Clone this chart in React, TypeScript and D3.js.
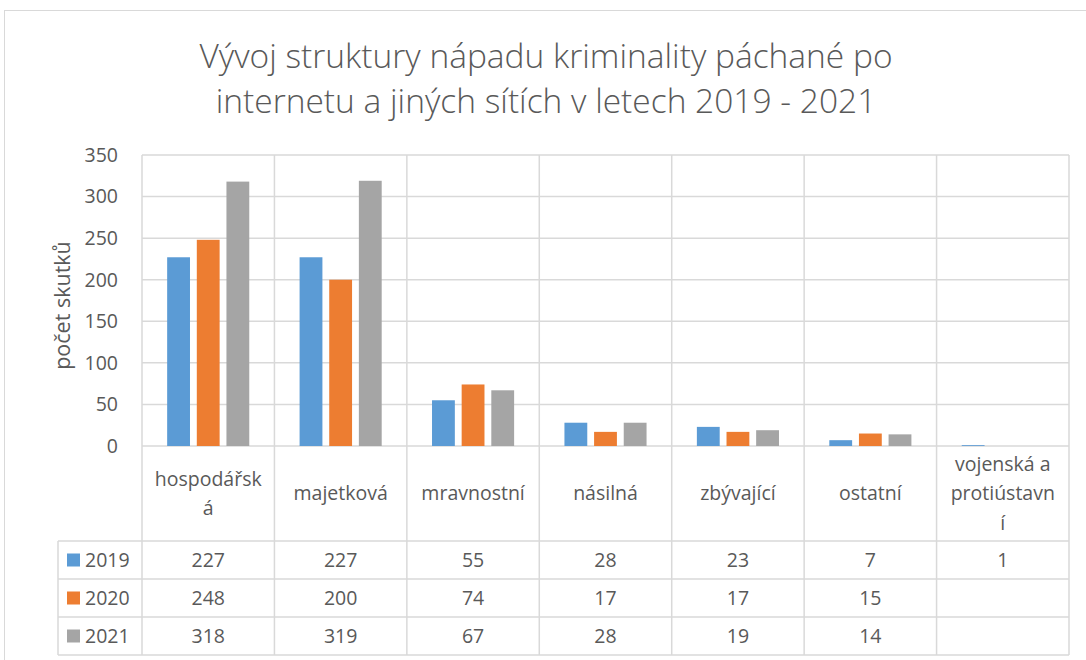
import React from 'react';
import * as d3 from 'd3';

const title = ['Vývoj struktury nápadu kriminality páchané po', 'internetu a jiných sítích v letech 2019 - 2021'];
const categories = ['hospodářská', 'majetková', 'mravnostní', 'násilná', 'zbývající', 'ostatní', 'vojenská a protiústavní'];
// wrapped the way the source draws them
const categoryLines = [['hospodářsk', 'á'], ['majetková'], ['mravnostní'], ['násilná'], ['zbývající'], ['ostatní'], ['vojenská a', 'protiústavn', 'í']];
const seriesNames = ['2019', '2020', '2021'];
const values2019: (number | null)[] = [227, 227, 55, 28, 23, 7, 1];
const values2020: (number | null)[] = [248, 200, 74, 17, 17, 15, null];
const values2021: (number | null)[] = [318, 319, 67, 28, 19, 14, null];
const yTicks = [0, 50, 100, 150, 200, 250, 300, 350];
const colors = ['#5b9bd5', '#ed7d31', '#a5a5a5'];

const App = () => {
  const width = 1086;
  const height = 660;
  const plot = { left: 142, right: 1069, top: 155, bottom: 446 };
  const rowH = 38;
  const headBottom = 541;
  const legendLeft = 58;
  const font = "'Open Sans', 'Noto Sans', sans-serif";
  const textColor = '#595959';
  const gridColor = '#d9d9d9';
  const fs = 19.5;

  const series = [values2019, values2020, values2021];

  const x = d3.scaleBand<string>().domain(categories).range([plot.left, plot.right]).padding(0);
  const bw = x.bandwidth();
  const inner = d3.scaleBand<string>().domain(seriesNames)
    .range([bw * 0.19, bw * 0.81]).paddingInner(0.23).paddingOuter(0);
  const y = d3.scaleLinear().domain([0, 350]).range([plot.bottom, plot.top]);

  const tableBottom = headBottom + rowH * seriesNames.length;

  return (
    <svg width={width} height={height} style={{ position: 'absolute', left: 0, top: 0, background: '#fff' }}>
      <rect x={4.5} y={10.5} width={1090} height={660} fill="#fff" stroke={gridColor} strokeWidth={1} />

      {title.map((t, i) => (
        <text key={i} x={546} y={68 + i * 45} textAnchor="middle" fontFamily={font} fontWeight={300}
          fontSize={33.5} fill={textColor}>{t}</text>
      ))}

      {/* gridlines */}
      {yTicks.map(t => (
        <line key={t} x1={plot.left} x2={plot.right} y1={y(t)} y2={y(t)} stroke={gridColor} strokeWidth={1.5} />
      ))}
      {/* vertical column lines through plot and header row */}
      {categories.map(c => (
        <line key={c} x1={x(c)!} x2={x(c)!} y1={plot.top} y2={tableBottom} stroke={gridColor} strokeWidth={1.5} />
      ))}
      <line x1={plot.right} x2={plot.right} y1={plot.top} y2={tableBottom} stroke={gridColor} strokeWidth={1.5} />

      {/* y tick labels */}
      {yTicks.map(t => (
        <text key={t} x={plot.left - 24} y={y(t)} dy="0.35em" textAnchor="end" fontFamily={font}
          fontSize={fs} fill={textColor}>{t}</text>
      ))}
      <text transform={`translate(62,${(plot.top + plot.bottom) / 2 + 5}) rotate(-90)`} textAnchor="middle"
        dy="0.35em" fontFamily={font} fontSize={21.5} fill={textColor}>počet skutků</text>

      {/* bars */}
      {series.map((vals, si) => (
        <g key={si}>
          {vals.map((v, ci) => v == null ? null : (
            <rect key={ci} x={x(categories[ci])! + inner(seriesNames[si])!} y={y(v)}
              width={inner.bandwidth()} height={y(0) - y(v)} fill={colors[si]} />
          ))}
        </g>
      ))}

      {/* category labels */}
      {categoryLines.map((lines, ci) => {
        const cx = x(categories[ci])! + bw / 2;
        const mid = (plot.bottom + headBottom) / 2;
        return (
          <text key={ci} textAnchor="middle" fontFamily={font} fontSize={fs} fill={textColor}>
            {lines.map((l, li) => (
              <tspan key={li} x={cx} y={mid + (li - (lines.length - 1) / 2) * 29.5} dy="0.35em">{l}</tspan>
            ))}
          </text>
        );
      })}

      {/* data table */}
      {d3.range(seriesNames.length + 1).map(r => (
        <line key={r} x1={legendLeft} x2={plot.right} y1={headBottom + r * rowH} y2={headBottom + r * rowH}
          stroke={gridColor} strokeWidth={1.5} />
      ))}
      <line x1={legendLeft} x2={legendLeft} y1={headBottom} y2={tableBottom} stroke={gridColor} strokeWidth={1.5} />
      {seriesNames.map((s, si) => {
        const cy = headBottom + si * rowH + rowH / 2;
        return (
          <g key={s}>
            <rect x={67} y={cy - 6.5} width={13} height={13} fill={colors[si]} />
            <text x={85} y={cy} dy="0.35em" fontFamily={font} fontSize={fs} fill={textColor}>{s}</text>
            {series[si].map((v, ci) => v == null ? null : (
              <text key={ci} x={x(categories[ci])! + bw / 2} y={cy} dy="0.35em" textAnchor="middle"
                fontFamily={font} fontSize={fs} fill={textColor}>{v}</text>
            ))}
          </g>
        );
      })}
    </svg>
  );
};

export default App;
